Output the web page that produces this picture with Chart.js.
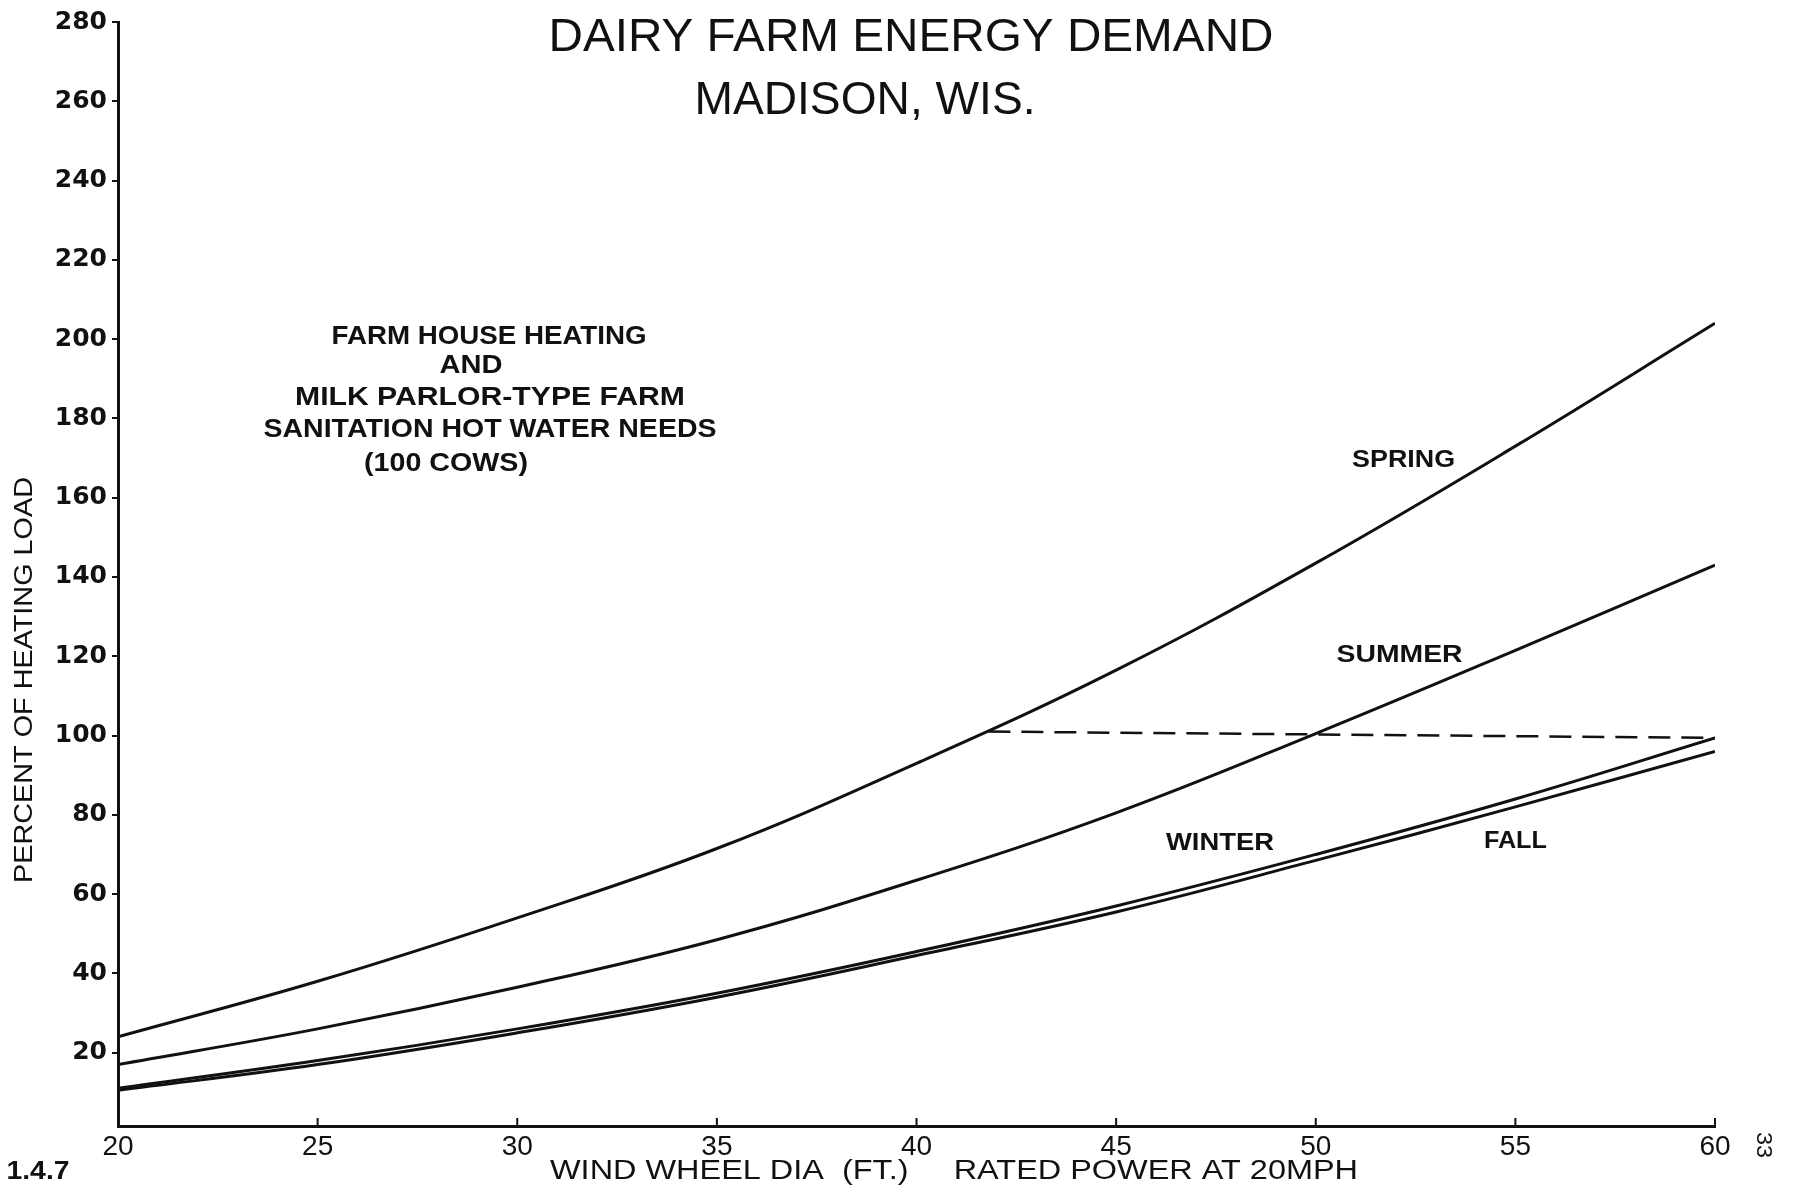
<!DOCTYPE html>
<html>
<head>
<meta charset="utf-8">
<title>Dairy Farm Energy Demand</title>
<script src="https://cdn.jsdelivr.net/npm/chart.js@4.4.1/dist/chart.umd.min.js"></script>
<style>
    html, body { margin: 0; padding: 0; background: #fff; }
    #wrap { width: 1795px; height: 1193px; position: relative; }
</style>
</head>
<body>
<div id="wrap"><canvas id="demandChart"></canvas></div>
<script>
// Wind wheel diameter (ft) and percent of heating load
const windDia = [20, 25, 30, 35, 40, 45, 50, 55, 60];
const spring  = [24, 38, 54, 71.5, 93, 116.5, 143.5, 173, 204];
const summer  = [17, 26, 36.5, 48.5, 63.5, 80.5, 100.5, 121.5, 143];
const winter  = [11, 18, 26, 35, 45.5, 57, 70, 84, 99.4];
const fall    = [10.5, 17, 25, 34, 44.5, 55.5, 68.5, 82, 96];

// 100% reference line, from where it leaves the spring curve to the right edge
const refDia  = [41.8, 60];
const refLoad = [101, 99.4];

const xTicks = [20, 25, 30, 35, 40, 45, 50, 55, 60];
const yTicks = [20, 40, 60, 80, 100, 120, 140, 160, 180, 200, 220, 240, 260, 280];

const seasonNames = ['SPRING', 'SUMMER', 'WINTER', 'FALL'];
const seasonLabelX = [52.2, 52.1, 47.6, 55.0];
const seasonLabelY = [169.3, 120.3, 72.9, 73.4];

const INK = '#111';
const FONT = '"Liberation Sans", "DejaVu Sans", sans-serif';

function toPoints(xs, ys) {
    return xs.map((x, i) => ({ x: x, y: ys[i] }));
}

function curve(data) {
    return {
        data: data,
        borderColor: INK,
        borderWidth: 3,
        pointRadius: 0,
        fill: false,
        tension: 0.4
    };
}

// text squeezed/stretched to the width it has in the drawing
function fittedText(ctx, text, cx, cy, size, width, weight, angle) {
    ctx.save();
    ctx.font = (weight || 'normal') + ' ' + size + 'px ' + FONT;
    const w = ctx.measureText(text).width;
    ctx.translate(cx, cy);
    if (angle) ctx.rotate(angle);
    ctx.scale(width / w, 1);
    ctx.textAlign = 'center';
    ctx.textBaseline = 'middle';
    ctx.fillStyle = INK;
    ctx.fillText(text, 0, 0);
    ctx.restore();
}

const labelsPlugin = {
    id: 'drawingText',
    afterDraw(chart) {
        const ctx = chart.ctx;
        const xs = chart.scales.x;
        const ys = chart.scales.y;

        // inward tick marks on the bottom axis
        ctx.save();
        ctx.strokeStyle = INK;
        ctx.lineWidth = 2;
        xTicks.forEach(v => {
            const px = xs.getPixelForValue(v);
            ctx.beginPath();
            ctx.moveTo(px, ys.bottom);
            ctx.lineTo(px, ys.bottom - 8);
            ctx.stroke();
        });
        ctx.restore();

        // title
        fittedText(ctx, 'DAIRY FARM ENERGY DEMAND', 911, 38, 47, 725, 'normal');
        fittedText(ctx, 'MADISON, WIS.', 865, 101, 47, 341, 'normal');

        // note block
        fittedText(ctx, 'FARM HOUSE HEATING', 489, 337, 25, 315, 'bold');
        fittedText(ctx, 'AND', 471, 366, 25, 63, 'bold');
        fittedText(ctx, 'MILK PARLOR-TYPE FARM', 490, 398, 25, 390, 'bold');
        fittedText(ctx, 'SANITATION HOT WATER NEEDS', 490, 430, 25, 453, 'bold');
        fittedText(ctx, '(100 COWS)', 446, 464, 25, 164, 'bold');

        // season names placed on the data scale
        const widths = [103, 126, 108, 63];
        seasonNames.forEach((name, i) => {
            fittedText(ctx, name,
                xs.getPixelForValue(seasonLabelX[i]),
                ys.getPixelForValue(seasonLabelY[i]),
                24, widths[i], 'bold');
        });

        // axis titles
        fittedText(ctx, 'PERCENT OF HEATING LOAD', 25, 680, 25, 406, 'normal', -Math.PI / 2);
        fittedText(ctx, 'WIND WHEEL DIA  (FT.)     RATED POWER AT 20MPH', 954, 1172, 27, 808, 'normal');

        // page marks
        fittedText(ctx, '1.4.7', 38, 1172, 26, 63, 'bold');
        fittedText(ctx, '33', 1763, 1145, 22, 26, 'normal', Math.PI / 2);
    }
};

new Chart(document.getElementById('demandChart'), {
    type: 'line',
    data: {
        datasets: [
            curve(toPoints(windDia, spring)),
            curve(toPoints(windDia, summer)),
            curve(toPoints(windDia, winter)),
            curve(toPoints(windDia, fall)),
            Object.assign(curve(toPoints(refDia, refLoad)), {
                borderWidth: 2.5,
                borderDash: [22, 11],
                tension: 0
            })
        ]
    },
    options: {
        responsive: true,
        maintainAspectRatio: false,
        animation: false,
        layout: {
            padding: { top: 22, right: 80, left: 0, bottom: 0 }
        },
        plugins: {
            legend: { display: false },
            tooltip: { enabled: false },
            title: { display: false }
        },
        scales: {
            x: {
                type: 'linear',
                min: 20,
                max: 60,
                afterBuildTicks: scale => { scale.ticks = xTicks.map(v => ({ value: v })); },
                afterFit: scale => { scale.height = 67; },
                grid: { display: false },
                border: { display: true, color: INK, width: 3 },
                ticks: {
                    color: INK,
                    padding: -4,
                    maxRotation: 0,
                    autoSkip: false,
                    font: { family: FONT, size: 28 }
                }
            },
            y: {
                type: 'linear',
                min: 1.5,
                max: 280,
                afterBuildTicks: scale => { scale.ticks = yTicks.map(v => ({ value: v })); },
                afterFit: scale => { scale.width = 118; },
                grid: {
                    drawOnChartArea: false,
                    drawTicks: true,
                    tickLength: 6,
                    color: INK,
                    lineWidth: 2
                },
                border: { display: true, color: INK, width: 3 },
                ticks: {
                    color: INK,
                    padding: 5,
                    autoSkip: false,
                    font: { family: '"DejaVu Sans", sans-serif', size: 25, weight: 'bold' }
                }
            }
        }
    },
    plugins: [labelsPlugin]
});
</script>
</body>
</html>
